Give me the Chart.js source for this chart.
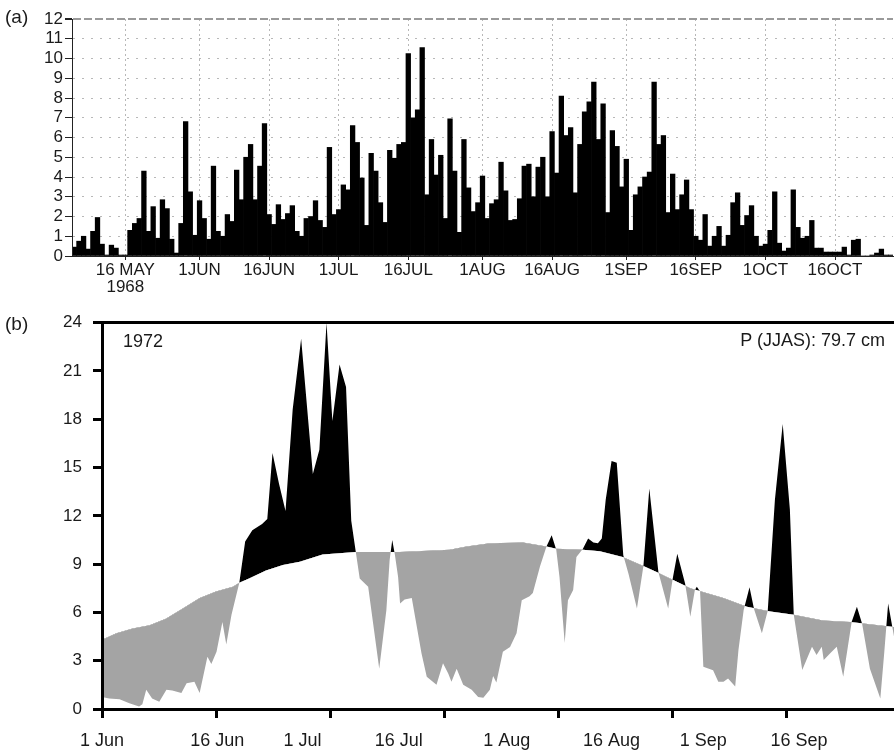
<!DOCTYPE html>
<html>
<head>
<meta charset="utf-8">
<script src="https://cdn.jsdelivr.net/npm/chart.js@4.4.0/dist/chart.umd.min.js"></script>
<style>
  html, body { margin: 0; padding: 0; background: #fff; }
  #wrap { position: relative; width: 894px; height: 751px; overflow: hidden; font-family: 'Liberation Sans', Arial, sans-serif; color: #1a1a1a; }
  .box { position: absolute; left: 0; width: 894px; }
  #boxA { top: 0; height: 300px; }
  #boxB { top: 300px; height: 451px; }
  .txt { position: absolute; line-height: 1; white-space: nowrap; }
</style>
</head>
<body>
<div id="wrap">
  <div class="box" id="boxA"><canvas id="chartA"></canvas></div>
  <div class="box" id="boxB"><canvas id="chartB"></canvas></div>
  <div class="txt" style="left:5px; top:7px; font-size:19px;">(a)</div>
  <div class="txt" style="left:5px; top:314px; font-size:19px;">(b)</div>
  <div class="txt" style="left:123px; top:332px; font-size:18px;">1972</div>
  <div class="txt" style="right:9px; top:331px; font-size:18px;">P (JJAS): 79.7 cm</div>
</div>
<script>
const FONT = "'Liberation Sans', Arial, sans-serif";

// ─── (a) 1968: daily values, 5 May – 28 Oct ─────────────────────────────────
const startA = Date.UTC(1968, 4, 5);
const rainA = [
  0.45, 0.75, 1.0, 0.35, 1.25, 1.95, 0.6, 0.05, 0.55, 0.4, 0.05, 0.05,
  1.3, 1.65, 1.9, 4.3, 1.25, 2.5, 0.9, 2.85, 2.4, 0.85, 0.15, 1.65, 6.8, 3.25, 1.05,
  2.8, 1.9, 0.85, 4.55, 1.25, 1.0, 2.1, 1.75, 4.35, 2.85, 5.0, 5.65, 2.85, 4.55, 6.7, 2.1,
  1.6, 2.6, 1.85, 2.15, 2.55, 1.25,
  1.0, 1.9, 2.0, 2.8, 1.8, 1.45, 5.5, 2.1,
  2.35, 3.6, 3.35, 6.6, 5.75, 3.95, 1.55, 5.2, 4.3, 2.7, 1.7, 5.35, 4.95, 5.65, 5.75, 10.25,
  7.0, 7.4, 10.55, 3.1, 5.9, 4.1, 5.1, 1.9, 6.95, 4.3, 1.2, 5.9, 3.45, 2.25, 2.7, 4.05,
  1.9, 2.65, 2.85, 4.75, 3.3, 1.8, 1.85, 2.9, 4.55, 4.65, 3.0, 4.5, 5.0, 3.0, 6.3,
  4.2, 8.1, 6.1, 6.5, 3.2, 5.65, 7.3, 7.8, 8.8, 5.9, 7.7, 2.2, 6.35, 5.55, 3.5, 4.9,
  1.3, 3.1, 3.5, 4.0, 4.25, 8.8, 5.65, 6.1, 2.2, 4.15, 2.35, 3.1, 3.85, 2.35, 1.0,
  0.8, 2.1, 0.5, 1.0, 1.5, 0.5, 1.05, 2.7, 3.2, 1.55, 2.05, 2.55, 1.0, 0.5, 0.6,
  1.3, 3.25, 0.65, 0.25, 0.4, 3.35, 1.45, 0.9, 1.0, 1.8, 0.4, 0.4, 0.2, 0.2, 0.2,
  0.2, 0.45, 0.05, 0.8, 0.85, 0.0, 0.0, 0.05, 0.15, 0.35, 0.05, 0.05
];
const tickDatesA  = ['05-16', '06-01', '06-16', '07-01', '07-16', '08-01', '08-16', '09-01', '09-16', '10-01', '10-16'];
const tickLabelsA = [['16 MAY', '1968'], '1JUN', '16JUN', '1JUL', '16JUL', '1AUG', '16AUG', '1SEP', '16SEP', '1OCT', '16OCT'];

// ─── (b) 1972: daily rain vs. climatology, days since 1 Jun ──────────────────
const climDayB = [0, 2.2, 4.7, 7.3, 9.8, 12.4, 15.0, 17.5, 20.1, 21.1, 22.6, 25.2, 27.8, 30.4, 33.9, 39.0,
  45.7, 53.4, 56.0, 59.6, 64.7, 68.3, 69.8, 73.9, 76.5, 80.0, 83.1, 85.3, 90.4, 95.5, 99.1, 102.7,
  106.3, 110.8, 115.0, 121.7];
const climB = [4.3, 4.7, 5.0, 5.2, 5.6, 6.25, 6.9, 7.3, 7.6, 7.85, 8.1, 8.6, 8.95, 9.15, 9.6, 9.75,
  9.75, 9.9, 10.1, 10.3, 10.35, 10.1, 9.95, 9.9, 9.8, 9.45, 8.9, 8.5, 7.5, 6.9, 6.35, 6.05,
  5.85, 5.5, 5.4, 5.1];
const rainDayB = [0, 1.1, 2.7, 4.2, 5.7, 6.2, 6.8, 7.7, 8.8, 9.9, 10.8, 12.2, 13.0, 14.2, 15.0, 16.2,
  16.8, 17.6, 18.5, 19.1, 19.9, 21.1, 22.0, 23.1, 24.6, 25.4, 26.2, 27.2, 28.2, 29.3, 30.6, 32.4,
  33.4, 34.5, 35.4, 36.5, 37.5, 38.3, 39.0, 39.6, 40.9, 42.6, 43.7, 44.2, 44.6, 45.0, 45.5, 45.8,
  46.5, 47.6, 49.1, 49.9, 51.4, 52.4, 53.2, 53.7, 54.5, 55.5, 56.8, 57.8, 58.6, 59.6, 60.1, 60.6,
  61.6, 62.7, 63.7, 64.5, 65.7, 66.2, 67.3, 68.3, 69.1, 69.8, 70.3, 71.1, 71.6, 72.4, 72.9, 73.9,
  74.7, 75.5, 76.2, 76.8, 77.4, 78.3, 79.1, 80.1, 80.9, 82.2, 83.2, 84.1, 85.5, 87.0, 87.7, 88.4,
  89.6, 90.4, 91.1, 91.4, 91.9, 92.4, 93.9, 94.7, 95.5, 96.2, 97.3, 97.8, 98.6, 99.5, 100.2, 101.4,
  102.3, 103.4, 104.6, 105.7, 106.3, 107.6, 109.1, 109.8, 110.6, 110.9, 111.9, 112.9, 113.9, 115.2, 116.0, 116.8,
  118.0, 119.6, 120.2, 120.8, 121.7];
const rainB = [0.75, 0.65, 0.6, 0.35, 0.15, 0.3, 1.2, 0.65, 0.45, 1.2, 1.15, 1.0, 1.6, 1.7, 1.0, 3.25,
  2.8, 3.55, 5.4, 4.0, 5.85, 7.85, 10.4, 11.1, 11.5, 11.8, 15.9, 14.0, 12.3, 18.6, 23.0, 14.6,
  16.1, 24.0, 17.9, 21.4, 20.0, 11.7, 9.75, 8.1, 7.6, 2.5, 6.15, 9.25, 10.5, 9.6, 8.2, 6.55,
  6.8, 6.9, 3.45, 2.0, 1.5, 2.85, 2.2, 1.7, 2.5, 1.5, 1.2, 0.75, 0.7, 1.2, 2.05, 1.65,
  3.55, 3.85, 4.7, 6.75, 7.0, 7.2, 8.85, 10.1, 10.8, 9.9, 8.2, 4.1, 6.75, 7.4, 9.45, 9.95,
  10.6, 10.35, 10.3, 10.6, 13.0, 15.4, 15.3, 9.55, 8.4, 6.25, 8.9, 13.7, 8.5, 6.25, 8.1, 9.65,
  7.8, 5.73, 7.4, 7.6, 7.3, 2.63, 2.4, 1.7, 1.7, 1.9, 1.4, 3.66, 6.15, 7.56, 6.2, 4.7,
  6.1, 13.0, 17.7, 12.4, 5.85, 2.42, 3.87, 3.35, 3.87, 3.04, 3.46, 3.87, 2.0, 5.42, 6.35, 5.3,
  2.5, 0.66, 3.5, 6.56, 4.5];
const tickMarkDaysB = [0, 17.54, 35.08, 52.62, 70.15, 87.69, 105.23];
const tickLabelDaysB = [0, 17.7, 30.8, 45.6, 62.2, 78.3, 92.4, 107.1];
const tickLabelsB = ['1 Jun', '16 Jun', '1 Jul', '16 Jul', '1 Aug', '16 Aug', '1 Sep', '16 Sep'];

// ─── (a) gráfico de barras ────────────────────────────────────────────────────
const daysA = rainA.map((_, i) => {
  const d = new Date(startA + i * 864e5);
  return String(d.getUTCMonth() + 1).padStart(2, '0') + '-' + String(d.getUTCDate()).padStart(2, '0');
});
const isTickA = i => tickDatesA.includes(daysA[i]);
const labelA = i => { const k = tickDatesA.indexOf(daysA[i]); return k < 0 ? '' : tickLabelsA[k]; };

new Chart(document.getElementById('chartA'), {
  type: 'bar',
  data: {
    labels: daysA,
    datasets: [{ data: rainA, backgroundColor: '#000', borderWidth: 0, barPercentage: 1, categoryPercentage: 1 }],
  },
  options: {
    responsive: true, maintainAspectRatio: false, animation: false,
    layout: { padding: { top: 19, right: 1, left: 0, bottom: 0 } },
    plugins: { legend: { display: false }, tooltip: { enabled: false } },
    scales: {
      x: {
        grid: {
          offset: false,
          color: c => isTickA(c.index) ? '#b8b8b8' : 'transparent',
          tickColor: c => isTickA(c.index) ? '#222' : 'transparent',
          tickLength: 4,
        },
        border: { color: '#222', width: 1, dash: [2, 3], z: 1 },
        ticks: {
          autoSkip: false, maxRotation: 0, minRotation: 0, padding: 1, color: '#1a1a1a',
          font: { family: FONT, size: 17, lineHeight: 1.05 },
          callback: (v, i) => labelA(i),
        },
        afterFit: s => { s.height = 44; },
      },
      y: {
        min: 0, max: 12,
        ticks: { stepSize: 1, autoSkip: false, padding: 2, color: '#1a1a1a', font: { family: FONT, size: 17 } },
        grid: {
          color: c => c.tick.value === 12 ? '#9a9a9a' : (c.tick.value === 0 ? 'transparent' : '#b8b8b8'),
          lineWidth: c => c.tick.value === 12 ? 2 : 1,
          tickColor: '#222', tickLength: 7,
        },
        border: { color: '#222', width: 1, z: 1, dash: c => (c.tick && c.tick.value === 12) ? [8, 3] : [2, 7] },
        afterFit: s => { s.width = 72; },
      },
    },
  },
});

// ─── (b) lluvia 1972 frente a climatología ───────────────────────────────────
const ticksB = () => {
  const t = tickMarkDaysB.map(v => ({ value: v, mark: true, text: '' }));
  tickLabelDaysB.forEach((v, i) => {
    const same = t.find(o => o.value === v);
    if (same) same.text = tickLabelsB[i];
    else t.push({ value: v, mark: false, text: tickLabelsB[i] });
  });
  return t.sort((a, b) => a.value - b.value);
};

new Chart(document.getElementById('chartB'), {
  type: 'line',
  data: {
    datasets: [
      { label: 'Climatology', data: climDayB.map((d, i) => ({ x: d, y: climB[i] })),
        borderColor: 'transparent', pointRadius: 0, fill: false },
      { label: '1972', data: rainDayB.map((d, i) => ({ x: d, y: rainB[i] })),
        borderColor: 'transparent', pointRadius: 0,
        fill: { target: 0, above: '#000', below: '#a4a4a4' } },
    ],
  },
  options: {
    responsive: true, maintainAspectRatio: false, animation: false,
    layout: { padding: { top: 22.7, right: 0, left: 0, bottom: 0 } },
    plugins: { legend: { display: false }, tooltip: { enabled: false } },
    scales: {
      x: {
        type: 'linear', min: 0, max: 121.7,
        afterBuildTicks: s => { s.ticks = ticksB(); },
        ticks: {
          autoSkip: false, maxRotation: 0, minRotation: 0, padding: 12, color: '#1a1a1a',
          font: { family: FONT, size: 18 },
          callback: (v, i, t) => t[i].text || '',
        },
        grid: { drawOnChartArea: false, tickLength: 9, tickWidth: 3,
          tickColor: c => (c.tick && c.tick.mark) ? '#000' : 'transparent' },
        border: { color: '#000', width: 3, z: 1 },
        afterFit: s => { s.height = 42; },
      },
      xTop: {
        type: 'linear', position: 'top', min: 0, max: 121.7,
        ticks: { display: false },
        grid: { drawOnChartArea: false, drawTicks: false },
        border: { color: '#000', width: 3, z: 1 },
        afterFit: s => { s.height = 0; },
      },
      y: {
        min: 0, max: 24,
        ticks: { stepSize: 3, autoSkip: false, padding: 11, color: '#1a1a1a', font: { family: FONT, size: 17 } },
        grid: { drawOnChartArea: false, tickLength: 9, tickWidth: 3, tickColor: '#000' },
        border: { color: '#000', width: 3, z: 1 },
        afterFit: s => { s.width = 102; },
      },
    },
  },
});
</script>
</body>
</html>
